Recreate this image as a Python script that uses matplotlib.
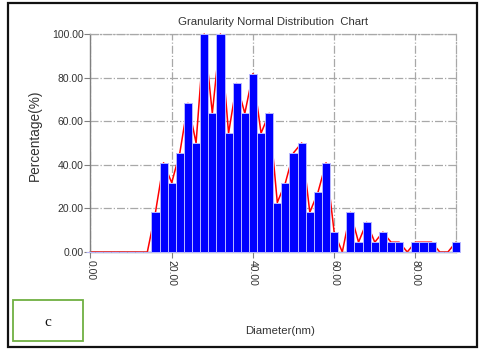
import numpy as np
import matplotlib.pyplot as plt
from matplotlib.patches import Rectangle

plt.rcParams['font.family'] = ['Liberation Sans', 'DejaVu Sans']

# diameter bins (nm) and percentage of the largest bin
diameters = list(range(0, 92, 2))
percent = [0, 0, 0, 0, 0, 0, 0, 0,
           18.2, 40.9, 31.8, 45.5, 68.2, 50.0, 100.0, 63.6, 100.0, 54.5,
           77.3, 63.6, 81.8, 54.5, 63.6, 22.7, 31.8, 45.5, 50.0, 18.2,
           27.3, 40.9, 9.1, 0, 18.2, 4.5, 13.6, 4.5, 9.1, 4.5,
           4.5, 0, 4.5, 4.5, 4.5, 0, 0, 4.5]
xticks = [0, 20, 40, 60, 80]
yticks = [0, 20, 40, 60, 80, 100]

fig = plt.figure(figsize=(4.8, 3.53), dpi=100)
ax = fig.add_axes([0.1885, 0.2861, 0.9500 - 0.1885, 0.9037 - 0.2861])

grid_col = '#a8a8a8'
ax.plot(diameters, percent, color='#ff0000', lw=1.1, zorder=2, clip_on=False)
ax.bar(diameters, percent, width=2.0, color='#0000ff', edgecolor='#b8b8ff',
       linewidth=0.7, zorder=3, clip_on=False)

ax.set_xlim(0, 90)
ax.set_ylim(0, 100)
ax.set_xticks(xticks)
ax.set_yticks(yticks)
ax.set_xticklabels(['%.2f' % v for v in xticks], rotation=-90, fontsize=7.5, color='#333333')
ax.set_yticklabels(['%.2f' % v for v in yticks], fontsize=7.5, color='#333333')
ax.tick_params(axis='y', length=4, width=0.8, color='#808080', pad=1)
ax.tick_params(axis='x', length=4, width=0.8, color='#808080', pad=2)
ax.grid(True, linestyle='-.', color=grid_col, lw=0.9, zorder=0)

for side in ['left', 'bottom']:
    ax.spines[side].set_color('#808080')
    ax.spines[side].set_linewidth(1.0)
for side in ['top', 'right']:
    ax.spines[side].set_color(grid_col)
    ax.spines[side].set_linestyle('-.')
    ax.spines[side].set_linewidth(0.9)

fig.text(0.569, 0.937, 'Granularity Normal Distribution  Chart', ha='center', va='center',
         fontsize=8.2, color='#333333')
fig.text(0.072, 0.6176, 'Percentage(%)', rotation=90, ha='center', va='center',
         fontsize=9.8, color='#333333')
fig.text(0.583, 0.062, 'Diameter(nm)', ha='center', va='center', fontsize=8.2, color='#333333')

# outer frame
fig.patches.append(Rectangle((8 / 480, 6 / 353), 469 / 480, 344 / 353, transform=fig.transFigure,
                             fill=False, edgecolor='#111111', lw=1.6))
# label box
fig.patches.append(Rectangle((13 / 480, 12 / 353), 70 / 480, 41 / 353, transform=fig.transFigure,
                             fill=False, edgecolor='#6fb042', lw=1.3))
fig.text(48 / 480, 31 / 353, 'c', ha='center', va='center', fontsize=11,
         family='Liberation Serif', color='#111111')

fig.savefig('out.png', dpi=100)
